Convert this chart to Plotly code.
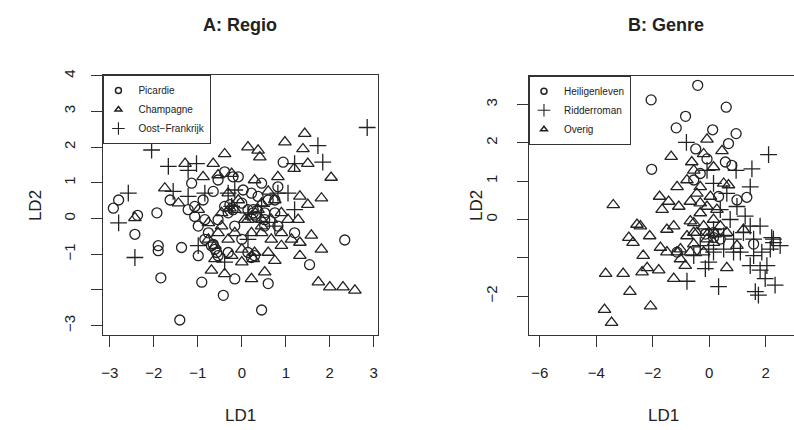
import plotly.graph_objects as go

# ---------------- Panel A: Regio ----------------
picardie_x = [-2.92, -2.80, -2.37, -2.43, -1.93, -1.90, -1.90, -1.84, -1.37, -1.63, -1.14, -0.91, -0.42,
              -1.41, 0.45, 2.34, 1.54, -0.16, 0.60, -0.99, -0.54, 0.94, -0.08, -0.39, -0.65, -0.88, -1.22,
              -1.07, -0.99, -0.76, -0.54, -0.39, -0.31, -0.16, 0.03, 0.14, 0.26, 0.45, 0.52, 0.60, 0.75,
              0.14, 0.29, -0.69, -0.61, -0.31, -0.84, -0.20, -0.54, -1.07, 0.82, 1.20, 0.00, 0.37, 0.52,
              0.00, 0.82, 0.22,
              -0.27, -0.20, 0.26, 0.33, -0.65, -0.57, 0.22, 0.52, -0.84, 0.75]
picardie_y = [0.29, 0.52, 0.09, -0.44, 0.16, -0.76, -0.90, -1.66, -0.81, 0.52, 0.99, -1.78, -2.15,
              -2.84, -2.56, -0.60, -1.29, -1.69, -1.82, -1.04, -1.04, 1.58, 1.17, 1.31, 0.76, 0.52, 0.25,
              0.06, -0.21, -0.40, -0.03, 0.34, 0.16, -0.21, 0.80, 0.25, 0.16, 0.99, -0.21, 0.52, 0.16,
              -0.95, -1.04, -0.76, -0.86, -0.95, -0.58, 1.17, 1.08, 0.34, -0.21, -0.40, 0.43, 0.62, 0.16,
              -0.58, 0.89, 0.71,
              0.39, 0.25, 0.25, 0.06, -0.72, -0.95, -1.09, -0.03, -0.03, 0.52]

champagne_x = [1.43, 0.98, 1.39, 0.14, 0.37, 0.41, -0.39, -1.29, -0.65, 1.19, 1.50, 2.03, 1.81, 1.32,
               1.50, 1.28, 1.58, 1.81, 1.32, 1.32, 1.74, 2.00, 2.30, 2.57, -1.75, -2.43, -0.69, -0.39,
               0.22, 0.52, 0.75, 0.00, 0.29, -0.88, -0.54, -0.23, 0.29, 0.82, 0.60, 0.75, 0.90, 1.05,
               0.45, -0.31, -0.16, 0.07, 0.22, 0.45, 0.67, 0.90, -0.31, -0.54, -0.76, -0.99, -1.44,
               -0.46, -0.08, 0.14, 0.45, 0.00, -0.23, -0.61, 0.90, 1.13, 0.60,
               -0.27, 0.22, 0.37, -0.61, 0.26, 0.45, 0.67, -0.46, -0.76, -0.16]
champagne_y = [2.38, 2.14, 1.95, 2.00, 1.91, 1.72, 1.81, 1.54, 1.54, 1.40, 1.54, 1.15, 0.57, 0.62,
               0.39, -0.03, -0.47, -0.86, -0.67, -1.04, -1.78, -1.92, -1.92, -2.01, 0.85, 0.02, -1.45,
               -1.55, -1.69, -1.50, -1.18, -1.22, -0.95, 1.17, 1.22, 1.26, 1.08, 1.17, 0.76, 0.52, 0.16,
               -0.03, 0.43, 0.71, 0.25, -0.03, -0.40, -0.40, -0.58, -0.76, -0.58, -0.40, -0.12, 0.25,
               0.43, 0.16, 0.52, -0.03, -0.03, -0.86, -1.04, -1.13, -0.40, -0.58, -0.95,
               0.29, 0.06, 0.25, -0.76, -1.13, -0.21, -0.03, -0.21, -0.58, -0.40]

oost_x = [2.85, -2.05, -1.67, -1.03, -1.22, 1.73, 1.84, 1.20, -2.58, -2.80, -2.43, -1.56, -1.22, -0.84,
          -0.31, -0.16, 1.05, 1.20, -0.99, -0.39, 0.75, 0.45, 0.14, -0.23, 0.14, 0.82]
oost_y = [2.55, 1.92, 1.46, 1.54, 1.35, 2.04, 1.58, 1.54, 0.71, -0.12, -1.09, 0.76, 0.62, 0.71,
          0.71, 0.80, 0.71, 0.25, -0.76, -1.22, -0.21, 0.34, -0.58, 0.34, 0.16, 0.71]

# ---------------- Panel B: Genre ----------------
heilig_x = [-0.41, -2.06, 0.60, -0.84, -1.17, 0.12, 0.95, 0.68, -0.48, -2.04, 0.57, 0.80, -0.08, 1.33,
            0.33, 0.98, 1.57, -0.32, -0.55, 0.15, 0.39, -1.14, 0.15, -0.14]
heilig_y = [3.50, 3.12, 2.93, 2.69, 2.39, 2.34, 2.24, 1.98, 1.84, 1.31, 1.50, 1.41, 1.58, 0.58,
            0.60, 0.51, -0.64, 1.20, 1.03, -0.34, -0.51, -0.85, -0.47, -0.38]

ridder_x = [-0.81, 2.10, 1.51, 0.95, 1.45, 0.15, -0.08, 1.27, 1.45, 1.80, 2.21, 2.51, 2.27, 1.86, 1.45,
            1.80, 1.98, 2.33, 1.63, 1.74, 0.33, -0.79, -0.14, -0.02, 0.86, 0.51, 0.15, 1.10, 0.74, 0.39,
            0.62, 0.98, 1.21, 2.16, 1.57, 2.04, -0.32, -0.55,
            0.15, 0.51, 0.86, -0.02, 1.57, 2.27]
ridder_y = [2.01, 1.69, 1.32, 1.28, 0.85, 0.94, 1.28, 0.09, -0.17, -0.17, -0.47, -0.68, -0.60, -0.85,
            -1.20, -1.32, -1.54, -1.71, -1.88, -1.97, -1.75, -1.61, -1.28, -1.11, -0.51, -0.77, -0.85,
            -0.85, 0.00, 0.26, 0.68, 0.34, -0.34, -0.77, -0.94, -1.20, -0.68, -0.94,
            -0.26, -0.43, -0.85, -0.77, -0.51, -0.51]

overig_x = [-3.40, -1.35, -0.08, 0.45, -0.62, -1.14, -1.76, -1.44, -1.67, -1.08, -0.67, -2.44, -2.56,
            -2.85, -2.70, -2.11, -2.34, -2.38, -2.20, -1.79, -3.67, -3.05, -1.26, -2.81, -2.08, -3.71,
            -3.46, 0.62, -1.73, -1.14, -1.02, -0.85, -1.50, -1.26, -0.79, -0.55, -0.32, -0.08, 0.15,
            0.39, 0.62, 0.98, 1.21, -0.55, -0.44, -0.79, -0.32, 0.04, 0.51, 0.68, 0.15, -0.20, -0.55,
            -0.08, 0.15, -0.44, -0.67, -0.20, -1.50,
            -0.02, 0.21, -0.20, -0.67, -1.02, -0.55, -0.32, 0.27]
overig_y = [0.38, 1.64, 2.09, 1.79, 1.50, 0.85, 0.60, 0.47, 0.26, 0.34, 0.47, -0.17, -0.13, -0.47,
            -0.60, -0.43, -0.94, -1.37, -1.26, -1.32, -1.41, -1.41, -1.54, -1.88, -2.26, -2.35, -2.69,
            -1.26, -0.73, -0.85, -1.03, -1.20, -0.26, -0.17, -0.43, -0.64, 0.17, 0.34, 0.00, -0.17,
            -0.34, -0.68, -0.26, -0.09, 0.68, 1.03, 0.85, 0.60, 0.94, 0.90, 1.37, 1.71, 1.28, -0.51,
            -0.60, -0.34, -0.85, -0.85, -0.85,
            -0.34, -0.38, -0.17, -0.04, -0.77, -0.34, 0.43, 0.26]

ticks_a_x = [-3, -2, -1, 0, 1, 2, 3]
ticks_a_y = [-3, -2, -1, 0, 1, 2, 3, 4]
ticktext_a_y = ["−3", "", "−1", "0", "1", "2", "3", "4"]
ticks_b_x = [-6, -4, -2, 0, 2]
ticks_b_y = [-2, -1, 0, 1, 2, 3]
ticktext_b_y = ["−2", "", "0", "1", "2", "3"]

INK = "#222222"
FONT = "Liberation Sans, Arial, sans-serif"

sym = {"circle": "circle-open", "tri": "triangle-up-open", "plus": "cross-thin-open"}
size = {"circle": 10, "tri": 11, "plus": 12}

fig = go.Figure()


def add(xs, ys, kind, name, xa, ya, legend):
    fig.add_trace(go.Scatter(
        x=xs, y=ys, mode="markers", xaxis=xa, yaxis=ya, showlegend=False,
        marker=dict(symbol=sym[kind], size=size[kind], color=INK, line=dict(width=1.3, color=INK)),
        hoverinfo="skip"))
    # legend entry (small symbol, like R's legend)
    fig.add_trace(go.Scatter(
        x=[None], y=[None], mode="markers", name=name, xaxis=xa, yaxis=ya, legend=legend,
        marker=dict(symbol=sym[kind], size=6 if kind != "plus" else 9, color=INK,
                    line=dict(width=1.5 if kind != "plus" else 1.1, color=INK))))


add(picardie_x, picardie_y, "circle", "Picardie", "x", "y", "legend")
add(champagne_x, champagne_y, "tri", "Champagne", "x", "y", "legend")
add(oost_x, oost_y, "plus", "Oost−Frankrijk", "x", "y", "legend")
add(heilig_x, heilig_y, "circle", "Heiligenleven", "x2", "y2", "legend2")
add(ridder_x, ridder_y, "plus", "Ridderroman", "x2", "y2", "legend2")
add(overig_x, overig_y, "tri", "Overig", "x2", "y2", "legend2")

W, H = 794, 430
def px(x):
    return x / W
def py(y):
    return 1 - y / H

axis_common = dict(showgrid=False, zeroline=False, showline=True, linecolor="#333", linewidth=1.2,
                   ticks="outside", ticklen=11, tickwidth=1, tickcolor="#333",
                   tickfont=dict(family=FONT, size=15, color=INK))

fig.update_layout(
    width=W, height=H, margin=dict(l=0, r=0, t=0, b=0),
    paper_bgcolor="white", plot_bgcolor="white",
    xaxis=dict(domain=[px(101.7), px(376.7)], range=[-3.145, 3.09], tickvals=ticks_a_x,
               mirror=True, anchor="y", ticklabelstandoff=13, **axis_common),
    yaxis=dict(domain=[py(334), py(70)], range=[-3.27, 4.02], tickvals=ticks_a_y, ticktext=ticktext_a_y,
               tickangle=-90, mirror=True, anchor="x", ticklabelstandoff=10, **axis_common),
    xaxis2=dict(domain=[px(528.3), 1.0], range=[-6.385, 3.0], tickvals=ticks_b_x,
                mirror=True, anchor="y2", ticklabelstandoff=13, **axis_common),
    yaxis2=dict(domain=[py(334), py(70.7)], range=[-3.02, 3.75], tickvals=ticks_b_y, ticktext=ticktext_b_y,
                tickangle=-90, mirror=False, anchor="x2", ticklabelstandoff=14, **axis_common),
    legend=dict(x=px(101.7), y=py(70), xanchor="left", yanchor="top", bordercolor="#333", borderwidth=1,
                bgcolor="white", font=dict(family=FONT, size=10, color=INK), tracegroupgap=0,
                itemwidth=30, indentation=-6),
    legend2=dict(x=px(528.3), y=py(70.7), xanchor="left", yanchor="top", bordercolor="#333", borderwidth=1,
                 bgcolor="white", font=dict(family=FONT, size=10, color=INK), tracegroupgap=0,
                 itemwidth=30, indentation=-6),
    annotations=[
        dict(text="<b>A: Regio</b>", x=px(239), y=py(19), xref="paper", yref="paper", showarrow=False,
             font=dict(family=FONT, size=18, color=INK), xanchor="center", yanchor="middle"),
        dict(text="<b>B: Genre</b>", x=px(666), y=py(19), xref="paper", yref="paper", showarrow=False,
             font=dict(family=FONT, size=18, color=INK), xanchor="center", yanchor="middle"),
        dict(text="LD1", x=px(239), y=py(415), xref="paper", yref="paper", showarrow=False,
             font=dict(family=FONT, size=17, color=INK), xanchor="center", yanchor="middle"),
        dict(text="LD1", x=px(663), y=py(415), xref="paper", yref="paper", showarrow=False,
             font=dict(family=FONT, size=17, color=INK), xanchor="center", yanchor="middle"),
        dict(text="LD2", x=px(33), y=py(202), xref="paper", yref="paper", showarrow=False, textangle=-90,
             font=dict(family=FONT, size=17, color=INK), xanchor="center", yanchor="middle"),
        dict(text="LD2", x=px(475), y=py(202), xref="paper", yref="paper", showarrow=False, textangle=-90,
             font=dict(family=FONT, size=17, color=INK), xanchor="center", yanchor="middle"),
    ],
)

fig.write_html("out.html")
